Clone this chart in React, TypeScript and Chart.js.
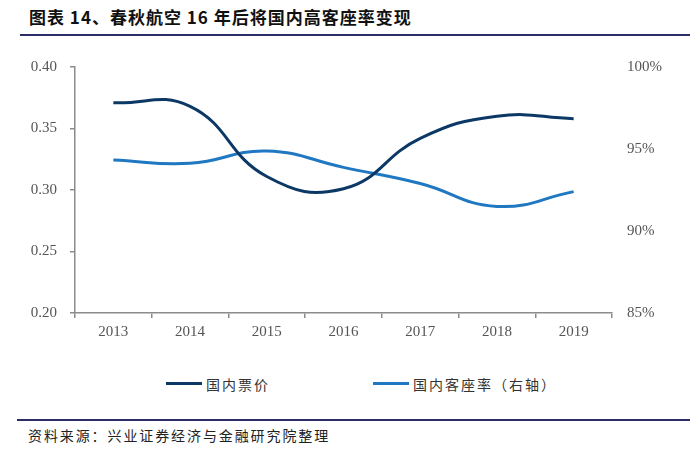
import React, { useEffect, useRef } from "react";
import { Chart, registerables } from "chart.js";

Chart.register(...registerables);

const categories = ["2013", "2014", "2015", "2016", "2017", "2018", "2019"];
const domesticFare = [0.371, 0.368, 0.311, 0.301, 0.342, 0.360, 0.358];
const domesticLoadFactor = [94.33, 94.13, 94.88, 93.88, 92.9, 91.5, 92.4];
const leftTicks = { min: 0.2, max: 0.4, step: 0.05 };
const rightTicks = { min: 85, max: 100, step: 5 };

const titleText = "图表 14、春秋航空 16 年后将国内高客座率变现";
const sourceText = "资料来源：兴业证券经济与金融研究院整理";
const seriesNames = ["国内票价", "国内客座率（右轴）"];

const DARK = "#0c3866";
const LIGHT = "#1f78c1";
const AXIS = "#8c8c8c";
const TICKFONT = { family: "'Liberation Serif', 'DejaVu Serif', serif", size: 15 };

export default function App() {
  const ref = useRef<HTMLCanvasElement | null>(null);

  useEffect(() => {
    document.body.style.margin = "0";
    if (!ref.current) return;
    const chart = new Chart(ref.current, {
      type: "line",
      data: {
        labels: categories,
        datasets: [
          {
            label: seriesNames[0],
            data: domesticFare,
            borderColor: DARK,
            borderWidth: 3,
            pointRadius: 0,
            tension: 0.45,
            yAxisID: "y",
          },
          {
            label: seriesNames[1],
            data: domesticLoadFactor,
            borderColor: LIGHT,
            borderWidth: 3,
            pointRadius: 0,
            tension: 0.45,
            yAxisID: "y1",
          },
        ],
      },
      options: {
        animation: false,
        responsive: false,
        layout: { padding: { top: 67, left: 0, right: 0, bottom: 0 } },
        plugins: { legend: { display: false }, tooltip: { enabled: false } },
        scales: {
          x: {
            offset: true,
            grid: { display: true, offset: true, drawOnChartArea: false, drawTicks: true, tickLength: 5, color: AXIS, lineWidth: 1.5 },
            border: { display: true, color: AXIS, width: 1.5 },
            ticks: { color: "#555", font: TICKFONT, padding: 5, maxRotation: 0 },
            afterFit: (s: any) => { s.height = 47; },
          },
          y: {
            position: "left",
            min: leftTicks.min,
            max: leftTicks.max,
            grid: { display: true, drawOnChartArea: false, drawTicks: true, tickLength: 5, color: AXIS, lineWidth: 1.5 },
            border: { display: true, color: AXIS, width: 1.5 },
            ticks: {
              stepSize: leftTicks.step,
              color: "#555",
              font: TICKFONT,
              padding: 13,
              callback: (v: any) => Number(v).toFixed(2),
            },
            afterFit: (s: any) => { s.width = 75; },
          },
          y1: {
            position: "right",
            min: rightTicks.min,
            max: rightTicks.max,
            grid: { display: false, drawTicks: false },
            border: { display: false },
            ticks: {
              stepSize: rightTicks.step,
              color: "#555",
              font: TICKFONT,
              padding: 15,
              callback: (v: any) => `${v}%`,
            },
            afterFit: (s: any) => { s.width = 88; },
          },
        },
      },
    });
    return () => chart.destroy();
  }, []);

  const cjk = "'Noto Sans CJK SC', 'Noto Sans', sans-serif";

  return (
    <div style={{ position: "relative", width: 700, height: 450, background: "#fff", overflow: "hidden" }}>
      <div
        style={{
          position: "absolute",
          left: 29,
          top: 4,
          fontFamily: cjk,
          fontWeight: 700,
          fontSize: 17,
          color: "#111",
          whiteSpace: "nowrap",
          letterSpacing: 1,
        }}
      >
        {titleText}
      </div>
      <div style={{ position: "absolute", left: 20, top: 34, width: 670, height: 2, background: "#2c2c66" }} />
      <canvas ref={ref} width={700} height={360} style={{ position: "absolute", left: 0, top: 0, width: 700, height: 360 }} />
      <div style={{ position: "absolute", left: 166, top: 382, width: 36, height: 3, background: DARK }} />
      <div style={{ position: "absolute", left: 206, top: 374, fontFamily: cjk, fontSize: 14, color: "#333", whiteSpace: "nowrap", letterSpacing: 2 }}>
        {seriesNames[0]}
      </div>
      <div style={{ position: "absolute", left: 373, top: 382, width: 36, height: 3, background: LIGHT }} />
      <div style={{ position: "absolute", left: 413, top: 374, fontFamily: cjk, fontSize: 14, color: "#333", whiteSpace: "nowrap", letterSpacing: 2 }}>
        {seriesNames[1]}
      </div>
      <div style={{ position: "absolute", left: 17, top: 419, width: 673, height: 2, background: "#2c2c66" }} />
      <div style={{ position: "absolute", left: 28, top: 425, fontFamily: cjk, fontSize: 14, color: "#222", whiteSpace: "nowrap", letterSpacing: 1.9 }}>
        {sourceText}
      </div>
    </div>
  );
}
